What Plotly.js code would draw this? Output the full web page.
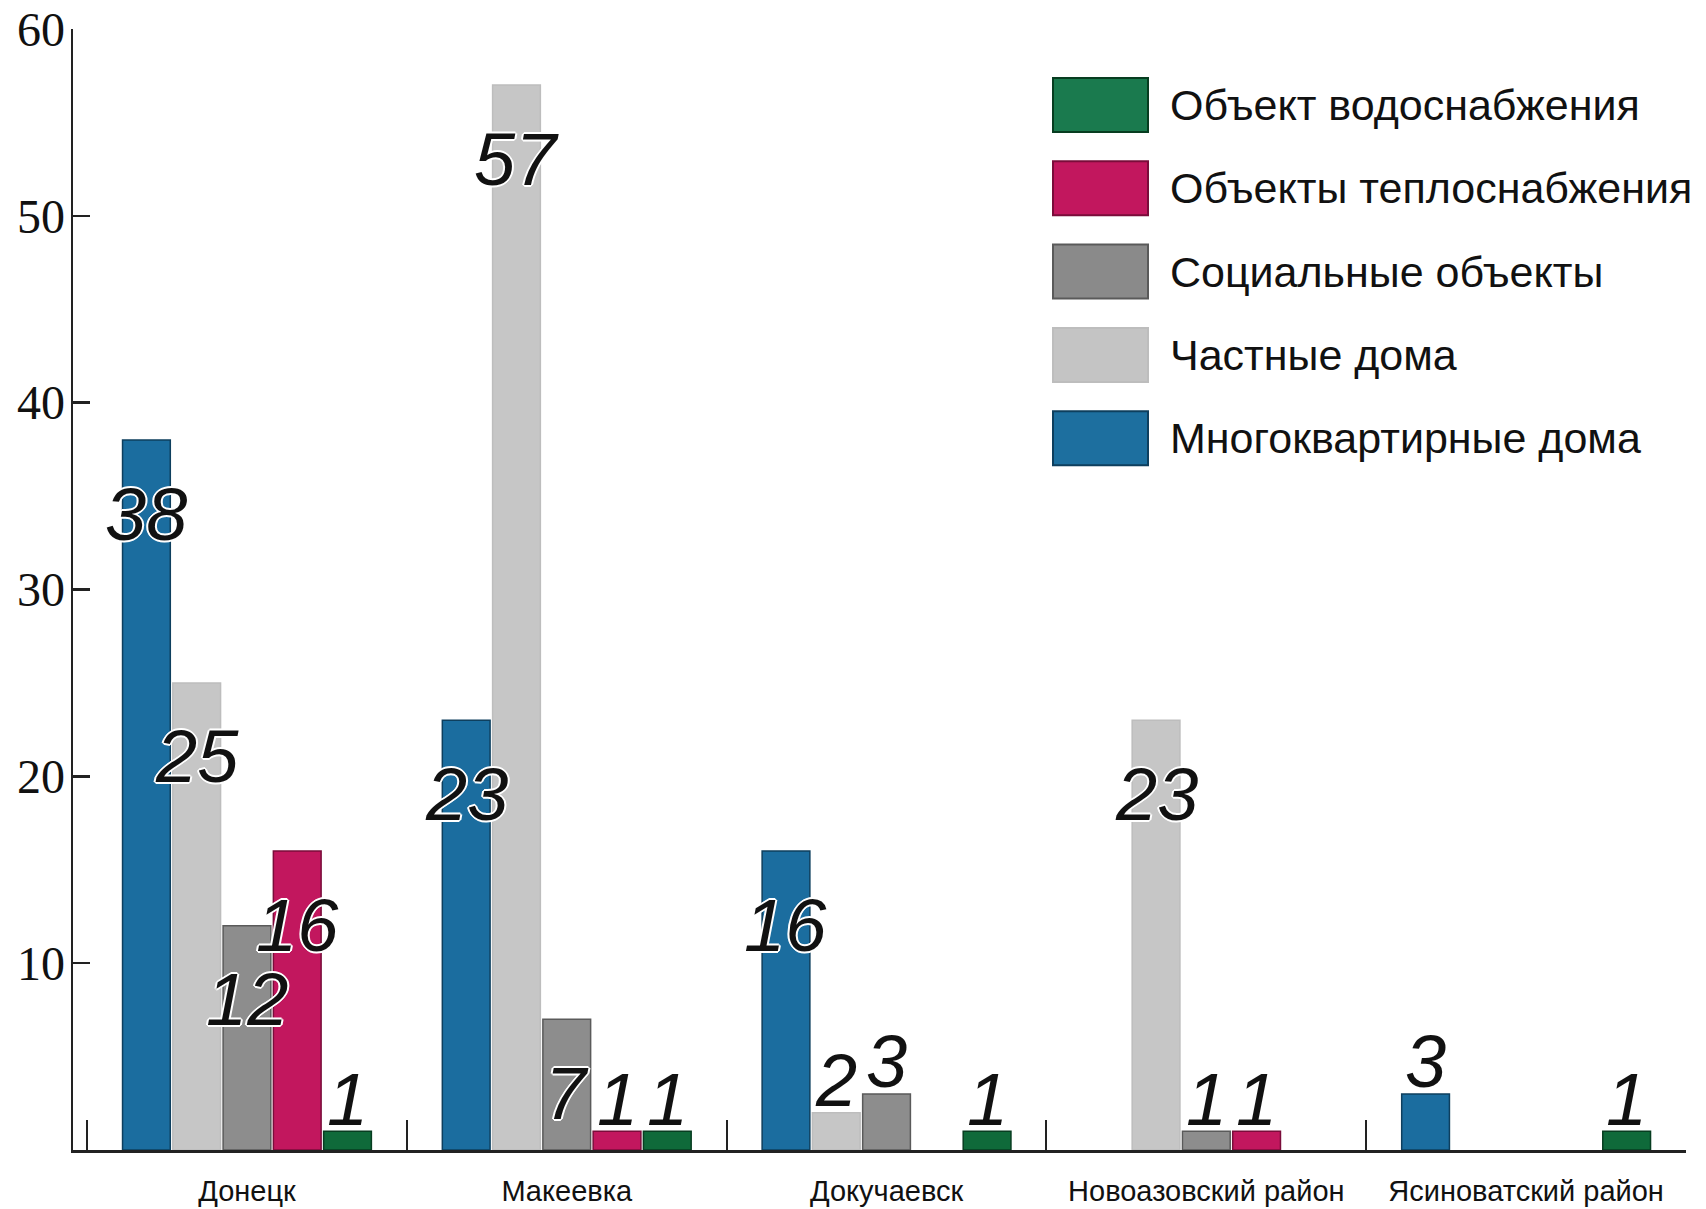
<!DOCTYPE html>
<html>
<head>
<meta charset="utf-8">
<script src="https://cdn.plot.ly/plotly-3.0.1.min.js"></script>
<style>html,body{margin:0;padding:0;background:#fff;}#chart{width:1706px;height:1209px;}</style>
</head>
<body>
<div id="chart"></div>
<script>
// ---- data ----
const categories = ['Донецк', 'Макеевка', 'Докучаевск', 'Новоазовский район', 'Ясиноватский район'];
const seriesNames = ['Многоквартирные дома', 'Частные дома', 'Социальные объекты', 'Объекты теплоснабжения', 'Объект водоснабжения'];
const apartments = [38, 23, 16, 0, 3];
const privateHouses = [25, 57, 2, 23, 0];
const socialObjects = [12, 7, 3, 1, 0];
const heatingObjects = [16, 1, 0, 1, 0];
const waterObjects = [1, 1, 1, 0, 1];
const yTickValues = [10, 20, 30, 40, 50, 60];

// ---- styles ----
const series = [apartments, privateHouses, socialObjects, heatingObjects, waterObjects];
const barColors = ['#1b6d9f', '#c6c6c6', '#8d8d8d', '#c2175e', '#0f6a3a'];
const lineColors = ['#0e3f5e', '#bdbdbd', '#5a5a5a', '#7a0c3a', '#073d20'];
const legendColors = ['#1d6f9f', '#c4c4c4', '#8a8a8a', '#c2175e', '#1a7a4e'];
const SANS = '"Liberation Sans", Arial, sans-serif';
const bargap = 0.214;

const W = 1706, H = 1209;
const M = {l: 73, r: 20, t: 29, b: 59};
const plotW = W - M.l - M.r, plotH = H - M.t - M.b;

const traces = series.map((vals, i) => ({
  type: 'bar',
  name: seriesNames[i],
  x: categories,
  y: vals.map(v => (v === 0 ? null : v)),
  marker: {color: barColors[i], line: {color: lineColors[i], width: 1.5}},
  showlegend: false,
  hoverinfo: 'x+y+name'
}));

// value labels
const annotations = [];
const slot = (1 - bargap) / series.length;
series.forEach((vals, i) => {
  vals.forEach((v, j) => {
    if (!v) return;
    const big = v >= 5;
    annotations.push({
      x: j + (i - (series.length - 1) / 2) * slot,
      y: v,
      xref: 'x', yref: 'y',
      text: String(v),
      showarrow: false,
      xanchor: 'center', yanchor: 'middle',
      yshift: big ? -74 : 32,
      font: {family: SANS, size: 74, color: '#111', style: 'italic',
             shadow: '2px 0 0 #fff, -2px 0 0 #fff, 0 2px 0 #fff, 0 -2px 0 #fff, 1px 1px 0 #fff, -1px -1px 0 #fff, 1px -1px 0 #fff, -1px 1px 0 #fff'}
    });
  });
});

// manual legend (large swatches)
const shapes = [];
const legendX0 = 1053, legendX1 = 1148, legendTextX = 1168;
const legendTop = 105, legendStep = 83.3, swatchH = 54;
const px2x = p => (p - M.l) / plotW;
const px2y = p => (H - M.b - p) / plotH;
for (let k = 0; k < series.length; k++) {
  const i = series.length - 1 - k;
  const cy = legendTop + k * legendStep;
  shapes.push({
    type: 'rect', xref: 'paper', yref: 'paper',
    x0: px2x(legendX0), x1: px2x(legendX1),
    y0: px2y(cy + swatchH / 2), y1: px2y(cy - swatchH / 2),
    fillcolor: legendColors[i], line: {color: lineColors[i], width: 2}
  });
  annotations.push({
    xref: 'paper', yref: 'paper',
    x: px2x(legendTextX), y: px2y(cy),
    xanchor: 'left', yanchor: 'middle',
    text: seriesNames[i], showarrow: false,
    font: {family: SANS, size: 43, color: '#111'}
  });
}

const layout = {
  width: W, height: H,
  margin: M,
  paper_bgcolor: '#fff', plot_bgcolor: '#fff',
  barmode: 'group',
  bargap: bargap,
  bargroupgap: 0.05,
  xaxis: {
    type: 'category',
    range: [-0.544, 4.5],
    showline: true, linecolor: '#222', linewidth: 2.5,
    ticks: 'inside', tickson: 'boundaries', ticklen: 30, tickwidth: 2, tickcolor: '#222',
    tickangle: 0,
    tickfont: {family: SANS, size: 29, color: '#111'},
    ticklabelstandoff: 14,
    showgrid: false, zeroline: false, automargin: false
  },
  yaxis: {
    range: [0, 60],
    tickvals: yTickValues,
    showline: true, linecolor: '#222', linewidth: 2.5,
    ticks: 'inside', ticklen: 17, tickwidth: 2.5, tickcolor: '#222',
    tickfont: {family: '"Liberation Serif", serif', size: 48, color: '#111'},
    ticklabelstandoff: -4,
    showgrid: false, zeroline: false, automargin: false
  },
  annotations: annotations,
  shapes: shapes,
  showlegend: false
};

Plotly.newPlot('chart', traces, layout, {displayModeBar: false, staticPlot: true});
</script>
</body>
</html>
